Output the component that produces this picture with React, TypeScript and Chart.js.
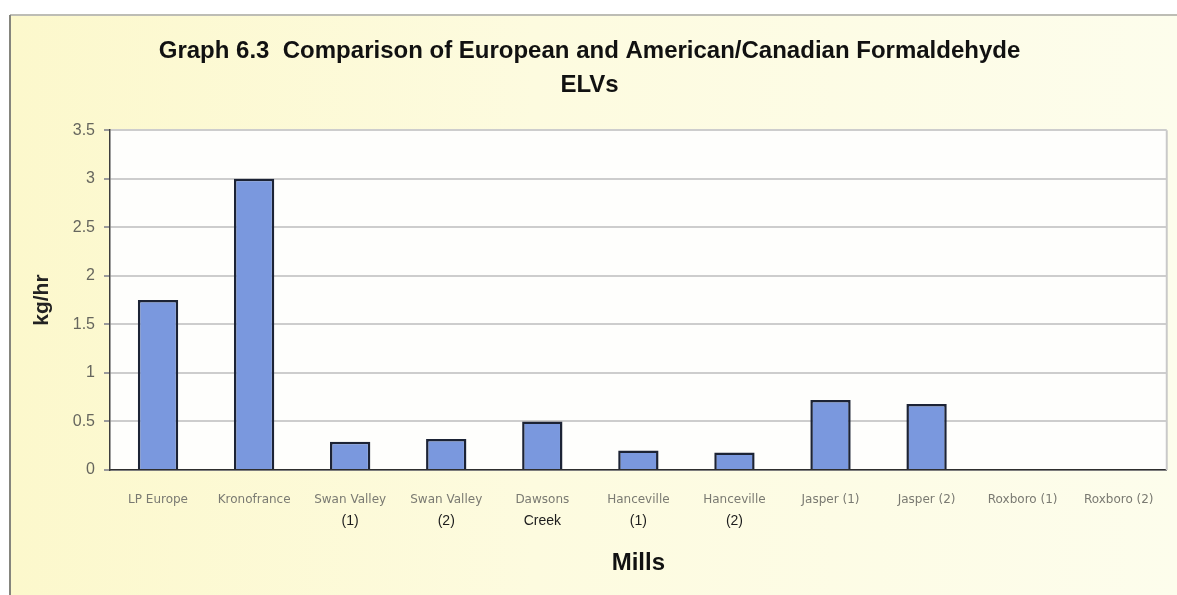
import { useEffect, useRef } from "react";
import { Chart, registerables } from "chart.js";

Chart.register(...registerables);

// Mills (first label line) and the optional second label line below it
const mills = [
  "LP Europe",
  "Kronofrance",
  "Swan Valley",
  "Swan Valley",
  "Dawsons",
  "Hanceville",
  "Hanceville",
  "Jasper (1)",
  "Jasper (2)",
  "Roxboro (1)",
  "Roxboro (2)",
];
const millSubLabels = ["", "", "(1)", "(2)", "Creek", "(1)", "(2)", "", "", "", ""];

// Formaldehyde emission limit values, kg/hr
const elvKgPerHr = [1.75, 3.0, 0.29, 0.32, 0.5, 0.2, 0.18, 0.72, 0.68, 0, 0];

const titleLines = [
  "Graph 6.3  Comparison of European and American/Canadian Formaldehyde",
  "ELVs",
];
const yAxisTitle = "kg/hr";
const xAxisTitle = "Mills";
const yMin = 0;
const yMax = 3.5;
const yStep = 0.5;

const SANS = "'Liberation Sans', Arial, sans-serif";

// Paper background, outer frame and white plot panel
const backdrop = {
  id: "backdrop",
  beforeDraw(chart: any) {
    const { ctx, width, height, chartArea: a } = chart;
    ctx.save();
    ctx.fillStyle = "#ffffff";
    ctx.fillRect(0, 0, width, height);
    const g = ctx.createLinearGradient(10, 0, width, 0);
    g.addColorStop(0, "#fcf8cc");
    g.addColorStop(0.45, "#fdfbdf");
    g.addColorStop(1, "#fdfdec");
    ctx.fillStyle = g;
    ctx.fillRect(10, 15, width - 10, height - 15);
    ctx.fillStyle = "#fefefc";
    ctx.fillRect(a.left, a.top, a.right - a.left, a.bottom - a.top);
    ctx.lineWidth = 2;
    ctx.strokeStyle = "#bdbdb5";
    ctx.beginPath();
    ctx.moveTo(10, 15);
    ctx.lineTo(width, 15);
    ctx.stroke();
    ctx.strokeStyle = "#85857d";
    ctx.beginPath();
    ctx.moveTo(10, 15);
    ctx.lineTo(10, height);
    ctx.stroke();
    ctx.restore();
  },
  beforeDatasetsDraw(chart: any) {
    const { ctx, chartArea: a } = chart;
    ctx.save();
    ctx.strokeStyle = "#c9c9c9";
    ctx.lineWidth = 2;
    ctx.beginPath();
    ctx.moveTo(a.right, a.top);
    ctx.lineTo(a.right, a.bottom);
    ctx.stroke();
    ctx.restore();
  },
};

// Second line of the category labels
const subLabels = {
  id: "subLabels",
  afterDraw(chart: any) {
    const { ctx, chartArea: a } = chart;
    const x = chart.scales.x;
    ctx.save();
    ctx.font = `14px ${SANS}`;
    ctx.fillStyle = "#1c1c1c";
    ctx.textAlign = "center";
    ctx.textBaseline = "middle";
    millSubLabels.forEach((t, i) => {
      if (t) ctx.fillText(t, x.getPixelForTick(i), a.bottom + 51);
    });
    ctx.restore();
  },
};

export default function App() {
  const canvasRef = useRef<HTMLCanvasElement | null>(null);

  useEffect(() => {
    if (!canvasRef.current) return;
    const chart = new Chart(canvasRef.current, {
      type: "bar",
      data: {
        labels: mills,
        datasets: [
          {
            data: elvKgPerHr,
            backgroundColor: "#7a98de",
            borderColor: "#1c2335",
            borderWidth: 2.5,
            barPercentage: 0.42,
            categoryPercentage: 1,
          },
        ],
      },
      options: {
        responsive: false,
        animation: false,
        devicePixelRatio: 1,
        layout: { padding: { left: 12, right: 10, top: 0, bottom: 0 } },
        plugins: {
          legend: { display: false },
          tooltip: { enabled: false },
          title: {
            display: true,
            text: titleLines,
            color: "#111111",
            font: { family: SANS, size: 24, weight: "bold", lineHeight: 1.4 },
            padding: { top: 35, bottom: 28 },
          },
        },
        scales: {
          x: {
            grid: { display: false, drawTicks: false },
            border: { display: true, color: "#2e2e2e", width: 1.5 },
            ticks: {
              color: "#7a7a72",
              font: { family: "'DejaVu Sans', sans-serif", size: 12 },
              padding: 23,
              maxRotation: 0,
              minRotation: 0,
              autoSkip: false,
            },
            title: {
              display: true,
              text: xAxisTitle,
              color: "#111111",
              font: { family: SANS, size: 24, weight: "bold", lineHeight: 1.2 },
              padding: { top: 0, bottom: 17 },
            },
            afterFit(scale: any) {
              scale.height = 125;
            },
          },
          y: {
            min: yMin,
            max: yMax,
            grid: { color: "#cdcdcd", lineWidth: 2, tickLength: 6, tickColor: "#9a9a9a" },
            border: { display: true, color: "#3e3e3e", width: 1.5 },
            ticks: {
              stepSize: yStep,
              color: "#66665e",
              font: { family: SANS, size: 16 },
              padding: 9,
              callback: (v: any) => String(v),
            },
            title: {
              display: true,
              text: yAxisTitle,
              color: "#222222",
              font: { family: SANS, size: 21, weight: "bold", lineHeight: 1.2 },
              padding: { top: 18, bottom: 0 },
            },
            afterFit(scale: any) {
              scale.width = 98;
            },
          },
        },
      },
      plugins: [backdrop, subLabels],
    });
    return () => chart.destroy();
  }, []);

  return (
    <div style={{ position: "absolute", left: 0, top: 0, width: 1177, height: 595 }}>
      <canvas ref={canvasRef} width={1177} height={595} style={{ display: "block" }} />
    </div>
  );
}
